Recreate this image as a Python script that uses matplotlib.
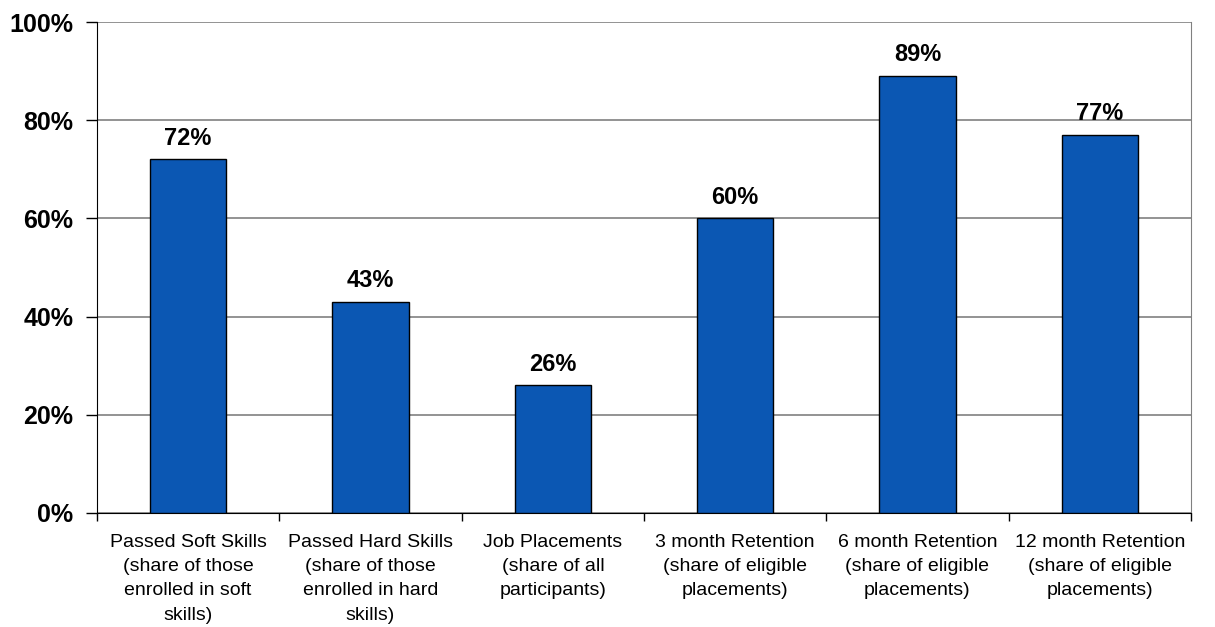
import matplotlib.pyplot as plt
import matplotlib.ticker as mtick

plt.rcParams['font.family'] = ['Liberation Sans', 'DejaVu Sans']

categories = [
    "Passed Soft Skills\n(share of those\nenrolled in soft\nskills)",
    "Passed Hard Skills\n(share of those\nenrolled in hard\nskills)",
    "Job Placements\n(share of all\nparticipants)",
    "3 month Retention\n(share of eligible\nplacements)",
    "6 month Retention\n(share of eligible\nplacements)",
    "12 month Retention\n(share of eligible\nplacements)",
]
values = [72, 43, 26, 60, 89, 77]

fig = plt.figure(figsize=(12.15, 6.27), dpi=100)
ax = fig.add_axes([97/1215, 1 - 513/627, (1191-97)/1215, (513-22)/627])

x = range(len(values))
ax.bar(x, values, width=0.42, color='#0B57B3', edgecolor='black', linewidth=1, zorder=3)

for i, v in enumerate(values):
    ax.text(i, v + 2, f"{v}%", ha='center', va='bottom', fontsize=17, fontweight='bold')

ax.set_xlim(-0.5, len(values) - 0.5)
ax.set_ylim(0, 100)
ax.set_yticks(range(0, 101, 20))
ax.yaxis.set_major_formatter(mtick.FuncFormatter(lambda v, p: f"{int(v)}%"))
ax.tick_params(axis='y', labelsize=18, length=8, width=1, pad=9)
for lbl in ax.get_yticklabels():
    lbl.set_fontweight('bold')

ax.set_xticks([i - 0.5 for i in range(len(values) + 1)])
ax.set_xticklabels([])
ax.set_xticks(list(x), minor=True)
ax.set_xticklabels(categories, minor=True, fontsize=14, linespacing=1.56)
ax.tick_params(axis='x', which='major', length=6, width=1)
ax.tick_params(axis='x', which='minor', length=0, pad=15)

ax.yaxis.grid(True, color='#808080', linewidth=1.2, zorder=0)
ax.set_axisbelow(True)
ax.spines['top'].set_visible(False)
ax.spines['right'].set_color('#808080')
ax.spines['left'].set_color('black')
ax.spines['bottom'].set_color('black')

fig.savefig('out.png', dpi=100)
